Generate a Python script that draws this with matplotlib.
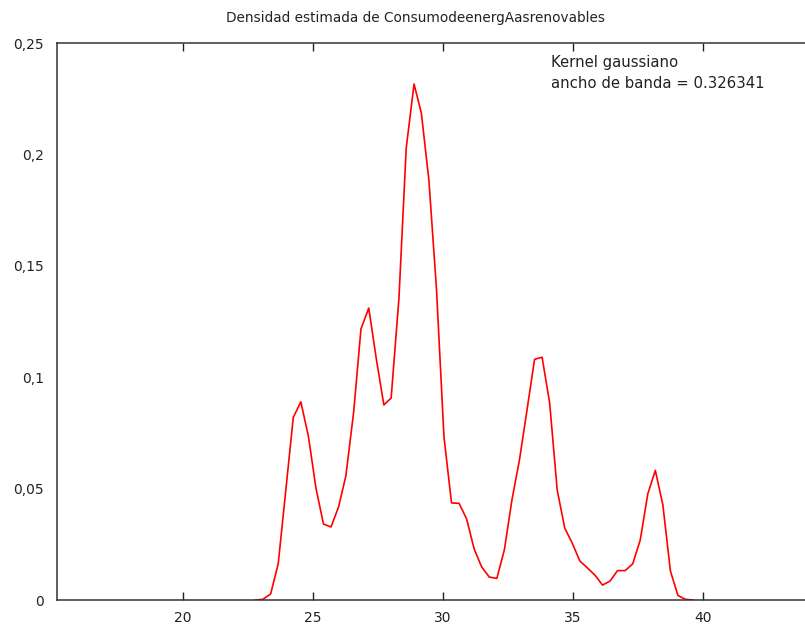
import matplotlib
matplotlib.use("Agg")
from matplotlib import pyplot as plt

# valores (densidad kernel)
x_vals = [22.80, 23.08, 23.38, 23.67, 23.96, 24.25, 24.54, 24.83, 25.12, 25.41,
          25.70, 25.99, 26.27, 26.57, 26.85, 27.15, 27.43, 27.73, 28.01, 28.31,
          28.59, 28.89, 29.17, 29.46, 29.75, 30.04, 30.33, 30.62, 30.91, 31.20,
          31.49, 31.78, 32.07, 32.36, 32.65, 32.94, 33.23, 33.52, 33.81, 34.10,
          34.39, 34.68, 34.97, 35.26, 35.55, 35.84, 36.13, 36.42, 36.71, 37.00,
          37.29, 37.58, 37.87, 38.16, 38.45, 38.74, 39.03, 39.32, 39.61]
dens = [0.0, 0.0003, 0.0027, 0.0162, 0.0490, 0.0820, 0.0890, 0.0736, 0.0503, 0.0341,
        0.0328, 0.0418, 0.0557, 0.0844, 0.1217, 0.1311, 0.1090, 0.0876, 0.0907, 0.1356,
        0.2030, 0.2317, 0.2187, 0.1886, 0.1400, 0.0732, 0.0436, 0.0434, 0.0364, 0.0229,
        0.0148, 0.0103, 0.0097, 0.0225, 0.0449, 0.0629, 0.0853, 0.1081, 0.1090, 0.0885,
        0.0494, 0.0323, 0.0255, 0.0175, 0.0144, 0.0112, 0.0067, 0.0085, 0.0132, 0.0132,
        0.0162, 0.0269, 0.0476, 0.0582, 0.0427, 0.0130, 0.0020, 0.0003, 0.0]

x_ticks = [20, 25, 30, 35, 40]
y_ticks = [0, 0.05, 0.1, 0.15, 0.2, 0.25]
y_labels = ["0", "0,05", "0,1", "0,15", "0,2", "0,25"]

W, H = 805, 626
fig = plt.figure(figsize=(W / 100, H / 100), dpi=100)
ax = fig.add_axes([56.7 / W, (H - 600) / H, (812 - 56.7) / W, (600 - 43.3) / H])

ax.plot(x_vals, dens, color="#ff0000", lw=1.2)

ax.set_xlim(15.16, 44.18)
ax.set_ylim(0, 0.25)
ax.set_xticks(x_ticks)
ax.set_xticklabels([str(t) for t in x_ticks])
ax.set_yticks(y_ticks)
ax.set_yticklabels(y_labels)
ax.tick_params(axis="x", direction="in", length=6, width=1, top=True,
               labelsize=10, pad=8, colors="#222222")
ax.tick_params(axis="y", length=0, labelsize=10, pad=9, colors="#222222")
for s in ax.spines.values():
    s.set_linewidth(1.1)
    s.set_color("#333333")

fig.text(415 / W, 1 - 18 / H, "Densidad estimada de ConsumodeenergAasrenovables",
         ha="center", va="center", fontsize=9.8, color="#222222")
ax.text(551 / W, 1 - 62 / H, "Kernel gaussiano", transform=fig.transFigure,
        ha="left", va="center", fontsize=10.7, color="#222222")
ax.text(551 / W, 1 - 83 / H, "ancho de banda = 0.326341", transform=fig.transFigure,
        ha="left", va="center", fontsize=10.7, color="#222222")

fig.savefig("out.png", dpi=100)
